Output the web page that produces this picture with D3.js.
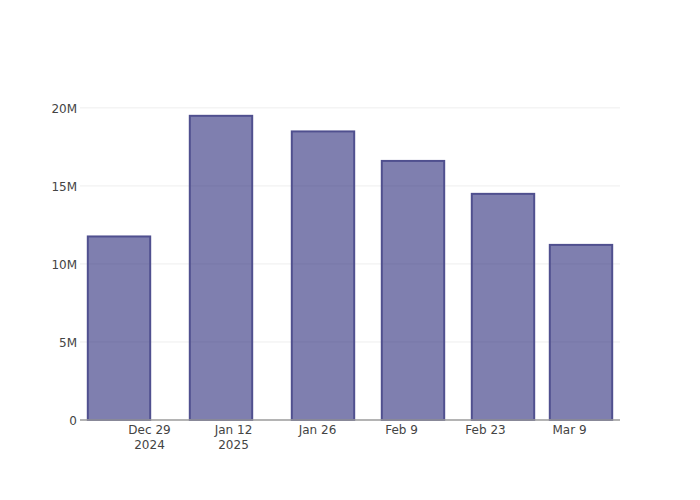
<!DOCTYPE html>
<html>
<head>
<meta charset="utf-8">
<script src="https://cdn.jsdelivr.net/npm/d3@7"></script>
<style>
  html, body { margin: 0; padding: 0; background: #fff; }
  svg { display: block; font-family: "DejaVu Sans", sans-serif; }
</style>
</head>
<body>
<svg id="chart" width="700" height="500"></svg>
<script>
// ---- data ----
const dates = ["2024-12-24", "2025-01-10", "2025-01-27", "2025-02-11", "2025-02-26", "2025-03-11"];
const values = [11.76e6, 19.49e6, 18.49e6, 16.6e6, 14.49e6, 11.22e6];
const xTickDates = ["2024-12-29", "2025-01-12", "2025-01-26", "2025-02-09", "2025-02-23", "2025-03-09"];
const xTickLabels = [["Dec 29", "2024"], ["Jan 12", "2025"], ["Jan 26"], ["Feb 9"], ["Feb 23"], ["Mar 9"]];
const yTickValues = [0, 5e6, 10e6, 15e6, 20e6];
const yTickLabels = ["0", "5M", "10M", "15M", "20M"];

// ---- layout ----
const W = 700, H = 500;
const margin = { top: 100, right: 80, bottom: 80, left: 80 };
const innerW = W - margin.left - margin.right;
const innerH = H - margin.top - margin.bottom;
const DAY = 864e5;

const parse = d3.utcParse("%Y-%m-%d");
const xDates = dates.map(parse);

// minimum gap between bars defines bar slot
let minGap = Infinity;
for (let i = 1; i < xDates.length; i++) minGap = Math.min(minGap, xDates[i] - xDates[i - 1]);

const x = d3.scaleUtc()
  .domain([new Date(+xDates[0] - minGap / 2), new Date(+xDates[xDates.length - 1] + minGap / 2)])
  .range([0, innerW]);
const y = d3.scaleLinear()
  .domain([0, d3.max(values) * 1.052])
  .range([innerH, 0]);

const barW = x(new Date(+xDates[0] + minGap * 0.8)) - x(xDates[0]);

const svg = d3.select("#chart");
const g = svg.append("g").attr("transform", `translate(${margin.left},${margin.top})`);

// gridlines
g.append("g")
  .selectAll("line")
  .data(yTickValues.filter(v => v > 0))
  .join("line")
  .attr("x1", 0).attr("x2", innerW)
  .attr("y1", d => y(d)).attr("y2", d => y(d))
  .attr("stroke", "#eeeeee").attr("stroke-width", 1);

// bars
g.append("g")
  .selectAll("rect")
  .data(values)
  .join("rect")
  .attr("x", (d, i) => x(xDates[i]) - barW / 2)
  .attr("width", barW)
  .attr("y", d => y(d))
  .attr("height", d => innerH - y(d))
  .attr("fill", "rgb(42,42,122)")
  .attr("fill-opacity", 0.6)
  .attr("stroke", "#50508f")
  .attr("stroke-width", 2);

// x axis line
g.append("line")
  .attr("x1", 0).attr("x2", innerW)
  .attr("y1", innerH).attr("y2", innerH)
  .attr("stroke", "#9b9b9b").attr("stroke-width", 1.5);

// x tick labels
const xAxis = d3.axisBottom(x)
  .tickValues(xTickDates.map(parse))
  .tickSize(0)
  .tickFormat("");
const xg = g.append("g").attr("transform", `translate(0,${innerH})`).call(xAxis);
xg.select(".domain").remove();
xg.selectAll(".tick").each(function (d, i) {
  const t = d3.select(this).append("text")
    .attr("fill", "#444")
    .attr("font-size", 12)
    .attr("text-anchor", "middle");
  xTickLabels[i].forEach((line, j) => {
    t.append("tspan").attr("x", 0).attr("y", 14 + j * 15).text(line);
  });
});

// y tick labels
const yAxis = d3.axisLeft(y)
  .tickValues(yTickValues)
  .tickSize(0)
  .tickPadding(3)
  .tickFormat((d, i) => yTickLabels[i]);
const yg = g.append("g").call(yAxis);
yg.select(".domain").remove();
yg.selectAll("text")
  .attr("fill", "#444")
  .attr("font-size", 12)
  .attr("font-family", "DejaVu Sans, sans-serif")
  .attr("dy", "0.35em");
xg.selectAll("text").attr("font-family", "DejaVu Sans, sans-serif");
</script>
</body>
</html>
